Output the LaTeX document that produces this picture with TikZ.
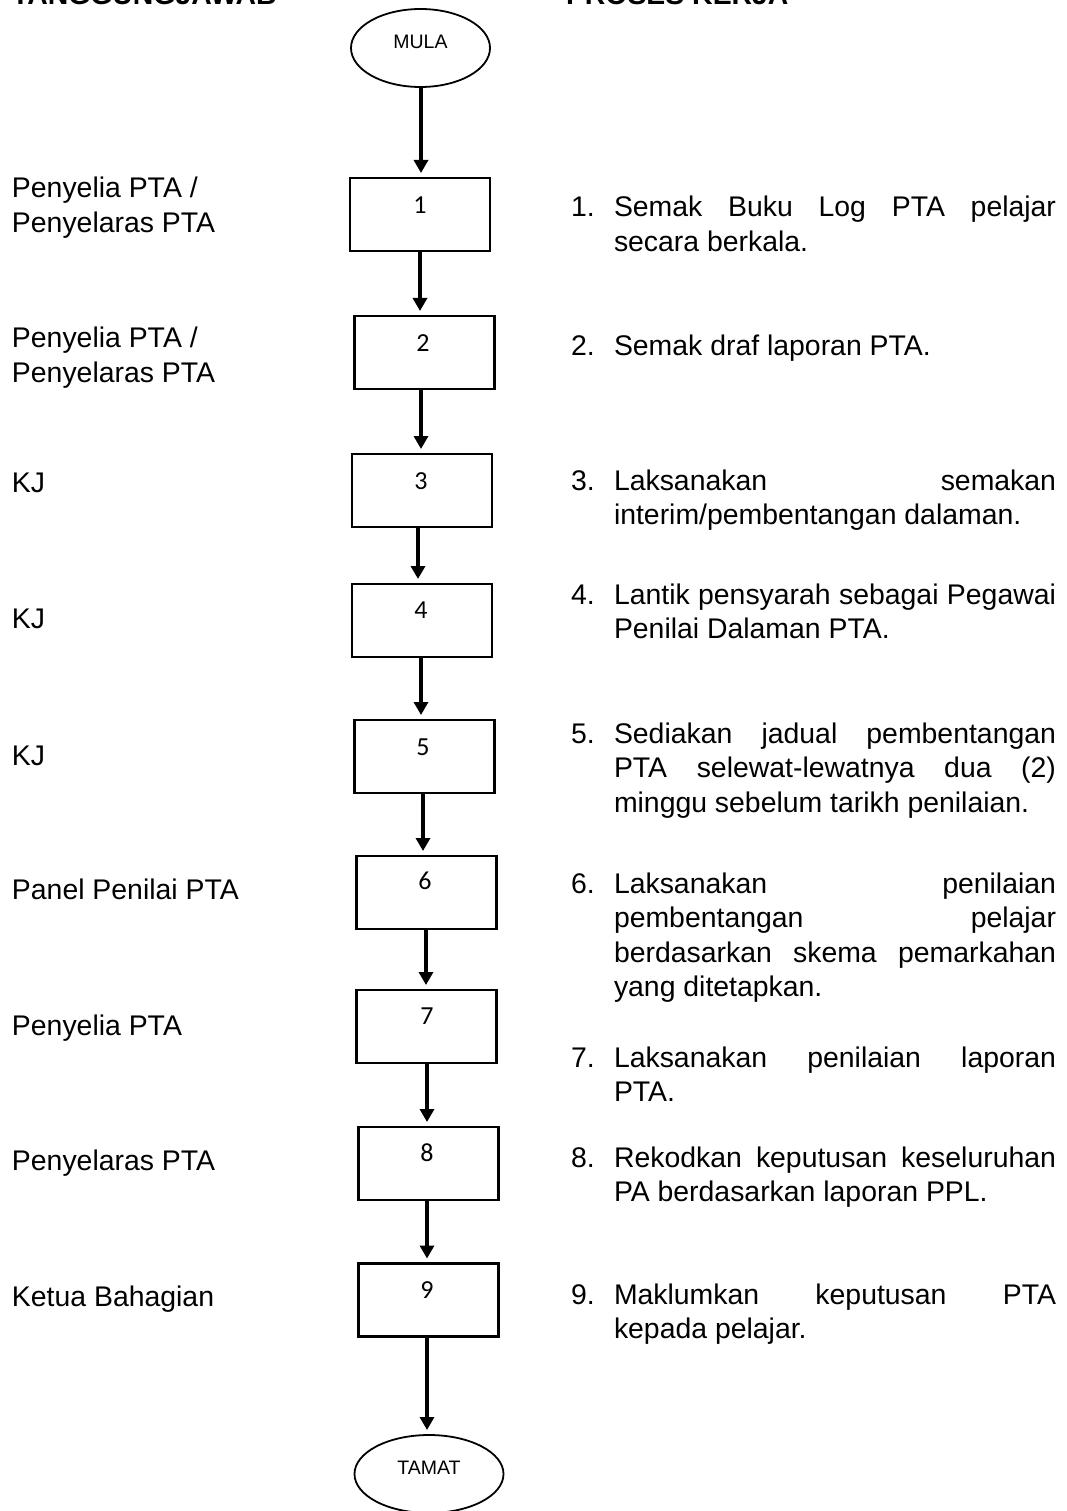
\documentclass[tikz,border=0pt]{standalone}
\usepackage{fontspec}
\setmainfont{Liberation Sans}
\newfontfamily\numfont{Carlito}
\usetikzlibrary{arrows.meta,shapes.geometric}

% one justified line of a list entry
\newcommand\jline[1]{\makebox[\linewidth][s]{#1}}

\tikzset{
  every node/.style={inner sep=0pt, outer sep=0pt},
  stepbox/.style={draw, line width=2.2pt, minimum width=140pt, minimum height=73pt},
  boxnum/.style={font=\numfont\fontsize{26}{30}\selectfont},
  term/.style={draw, ellipse, line width=1.8pt, minimum width=139pt, minimum height=78pt,
               font=\fontsize{19.5}{22}\selectfont, text depth=12pt},
  resp/.style={anchor=base west, font=\fontsize{28.4}{35}\selectfont},
  item/.style={anchor=base west, font=\fontsize{28.4}{34.5}\selectfont},
  head/.style={anchor=base west, font=\bfseries\fontsize{28.4}{34}\selectfont},
  flow/.style={line width=4pt, -{Triangle[width=14pt,length=13pt]}, shorten >=5pt},
}

\begin{document}
\begin{tikzpicture}[x=1pt, y=-1pt]
\useasboundingbox (0,0) rectangle (1066,1511);
\fill[white] (0,0) rectangle (1066,1511);

% column headings
\node[head] (hresp) at (12,5) {TANGGUNGJAWAB};
\node[head] (hproc) at (566,5) {PROSES KERJA};

% start / end terminals
\node[term] (mula) at (420.5,48) {MULA};
\node[term, minimum width=149pt] (tamat) at (429,1474) {TAMAT};

% process steps
\node[stepbox] (b1) at (420,214.5) {};
\node[stepbox] (b2) at (424.5,352.5) {};
\node[stepbox] (b3) at (422,490.5) {};
\node[stepbox] (b4) at (422,620.5) {};
\node[stepbox] (b5) at (424.5,756.5) {};
\node[stepbox] (b6) at (426.5,892.5) {};
\node[stepbox] (b7) at (426.5,1026.5) {};
\node[stepbox] (b8) at (428.5,1163.5) {};
\node[stepbox] (b9) at (428.5,1300) {};

\node[boxnum] (n1) at (420,205) {1};
\node[boxnum] (n2) at (423,343) {2};
\node[boxnum] (n3) at (421,481) {3};
\node[boxnum] (n4) at (421,610) {4};
\node[boxnum] (n5) at (423,747) {5};
\node[boxnum] (n6) at (425,881) {6};
\node[boxnum] (n7) at (427,1016) {7};
\node[boxnum] (n8) at (427,1153) {8};
\node[boxnum] (n9) at (427,1290) {9};

% connectors
\draw[flow] (mula.south -| 421,0) -- (b1.north -| 421,0);
\draw[flow] (b1.south -| 420,0) -- (b2.north -| 420,0);
\draw[flow] (b2.south -| 421,0) -- (b3.north -| 421,0);
\draw[flow] (b3.south -| 418,0) -- (b4.north -| 418,0);
\draw[flow] (b4.south -| 421,0) -- (b5.north -| 421,0);
\draw[flow] (b5.south -| 423,0) -- (b6.north -| 423,0);
\draw[flow] (b6.south -| 426,0) -- (b7.north -| 426,0);
\draw[flow] (b7.south -| 427,0) -- (b8.north -| 427,0);
\draw[flow] (b8.south -| 427,0) -- (b9.north -| 427,0);
\draw[flow] (b9.south -| 427,0) -- (tamat.north -| 427,0);

% responsibilities
\node[resp] (r1) at (12,198) {\parbox[t]{260pt}{Penyelia PTA /\\Penyelaras PTA}};
\node[resp] (r2) at (12,347) {\parbox[t]{260pt}{Penyelia PTA /\\Penyelaras PTA}};
\node[resp] (r3) at (12,492) {KJ};
\node[resp] (r4) at (12,628) {KJ};
\node[resp] (r5) at (12,765) {KJ};
\node[resp] (r6) at (12,899) {Panel Penilai PTA};
\node[resp] (r7) at (12,1035) {Penyelia PTA};
\node[resp] (r8) at (12,1170) {Penyelaras PTA};
\node[resp] (r9) at (12,1306) {Ketua Bahagian};

% work process
\node[item] (p1) at (571,217) {\makebox[43pt][l]{1.}\parbox[t]{442pt}{%
  \jline{Semak Buku Log PTA pelajar}\\secara berkala.}};
\node[item] (p2) at (571,355) {\makebox[43pt][l]{2.}\parbox[t]{442pt}{%
  Semak draf laporan PTA.}};
\node[item] (p3) at (571,490) {\makebox[43pt][l]{3.}\parbox[t]{442pt}{%
  \jline{Laksanakan semakan}\\interim/pembentangan dalaman.}};
\node[item] (p4) at (571,604) {\makebox[43pt][l]{4.}\parbox[t]{442pt}{%
  \jline{Lantik pensyarah sebagai Pegawai}\\Penilai Dalaman PTA.}};
\node[item] (p5) at (571,743) {\makebox[43pt][l]{5.}\parbox[t]{442pt}{%
  \jline{Sediakan jadual pembentangan}\\\jline{PTA selewat-lewatnya dua (2)}\\minggu sebelum tarikh penilaian.}};
\node[item] (p6) at (571,893) {\makebox[43pt][l]{6.}\parbox[t]{442pt}{%
  \jline{Laksanakan penilaian}\\\jline{pembentangan pelajar}\\\jline{berdasarkan skema pemarkahan}\\yang ditetapkan.}};
\node[item] (p7) at (571,1067) {\makebox[43pt][l]{7.}\parbox[t]{442pt}{%
  \jline{Laksanakan penilaian laporan}\\PTA.}};
\node[item] (p8) at (571,1167) {\makebox[43pt][l]{8.}\parbox[t]{442pt}{%
  \jline{Rekodkan keputusan keseluruhan}\\PA berdasarkan laporan PPL.}};
\node[item] (p9) at (571,1304) {\makebox[43pt][l]{9.}\parbox[t]{442pt}{%
  \jline{Maklumkan keputusan PTA}\\kepada pelajar.}};
\end{tikzpicture}
\end{document}
